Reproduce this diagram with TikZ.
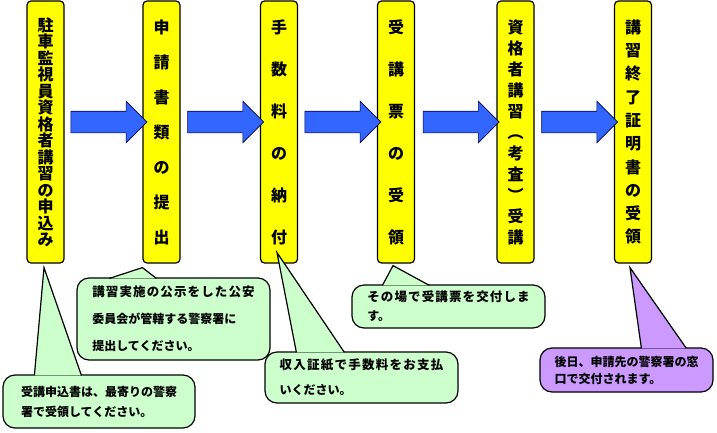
\documentclass[tikz,border=0pt]{standalone}
\usepackage{fontspec}
\newfontfamily\jpfont{Noto Sans CJK JP}
\usetikzlibrary{shapes.arrows,calc}

\definecolor{stepyellow}{RGB}{255,255,0}
\definecolor{arrowblue}{RGB}{51,102,255}
\definecolor{notegreen}{RGB}{204,255,204}
\definecolor{notepurple}{RGB}{204,153,255}

\tikzset{
  stepbox/.style={draw, fill=stepyellow, line width=1.2pt, rounded corners=4pt,
    minimum width=37pt, minimum height=262pt, inner sep=0pt, align=center,
    font=\jpfont\bfseries\fontsize{16pt}{#1}\selectfont},
  flowarrow/.style={single arrow, draw=black!70!blue, fill=arrowblue, line width=0.6pt,
    single arrow head extend=10pt, inner xsep=0pt, inner ysep=10.5pt, minimum height=76pt},
  note/.style={draw, fill=notegreen, line width=1.2pt, rounded corners=12pt,
    inner sep=0pt, align=left, font=\jpfont\bfseries\fontsize{12pt}{#1}\selectfont},
  pointer/.style={draw, fill=notegreen, line width=1.2pt}
}

\begin{document}
\begin{tikzpicture}[x=1pt, y=-1pt]
    \useasboundingbox (0,0) rectangle (717,432);

    \node[stepbox=16.5pt] (s1) at (45.5,132) {駐\\車\\監\\視\\員\\資\\格\\者\\講\\習\\の\\申\\込\\み};
    \node[stepbox=35pt] (s2) at (161.5,132) {申\\請\\書\\類\\の\\提\\出};
    \node[stepbox=42pt] (s3) at (279,132) {手\\数\\料\\の\\納\\付};
    \node[stepbox=42pt] (s4) at (396,132) {受\\講\\票\\の\\受\\領};
    \node[stepbox=21pt] (s5) at (515.5,132) {資\\格\\者\\講\\習\\︵\\考\\査\\︶\\受\\講};
    \node[stepbox=23.3pt] (s6) at (633,132) {講\\習\\終\\了\\証\\明\\書\\の\\受\\領};

    \node[flowarrow] (a1) at ($(s1.east)!0.5!(s2.west)+(0,-10)$) {};
    \node[flowarrow] (a2) at ($(s2.east)!0.5!(s3.west)+(0,-10)$) {};
    \node[flowarrow] (a3) at ($(s3.east)!0.5!(s4.west)+(0,-10)$) {};
    \node[flowarrow] (a4) at ($(s4.east)!0.5!(s5.west)+(0,-10)$) {};
    \node[flowarrow] (a5) at ($(s5.east)!0.5!(s6.west)+(0,-10)$) {};

    \node[note=20pt, minimum width=192pt, minimum height=53pt] (c1) at (99,401.5)
        {受講申込書は、最寄りの警察\\署で受領してください。};
    \node[note=27pt, minimum width=193pt, minimum height=82pt] (c2) at (173.5,319)
        {\fontsize{12.5pt}{27pt}\selectfont\addfontfeature{LetterSpace=9}講習実施の公示をした公安\\委員会が管轄する警察署に\\提出してください。};
    \node[note=25pt, minimum width=193pt, minimum height=51pt] (c3) at (361.5,377.5)
        {\fontsize{12.5pt}{25pt}\selectfont\addfontfeature{LetterSpace=10}収入証紙で手数料をお支払\\いください。};
    \node[note=19pt, minimum width=193pt, minimum height=43pt] (c4) at (448.5,306.5)
        {\fontsize{12.5pt}{19pt}\selectfont\addfontfeature{LetterSpace=9}その場で受講票を交付しま\\す。};
    \node[note=17pt, fill=notepurple, minimum width=173pt, minimum height=44pt] (c5) at (626.5,370)
        {後日、申請先の警察署の窓\\口で交付されます。};

    \draw[pointer] ($(c1.north west)+(32,1)$) -- ($(s1.south)+(-1.5,4)$) -- ($(c1.north west)+(79,1)$);
    \draw[pointer] ($(c2.north west)+(33,1)$) -- ($(s2.south west)+(0,4)$) -- ($(c2.north west)+(80,1)$);
    \draw[pointer] ($(c3.north west)+(32,1)$) -- ($(s3.south)+(-2,-11)$) -- ($(c3.north west)+(80,1)$);
    \draw[pointer] ($(c4.north west)+(31,1)$) -- ($(s4.south)+(-3,2)$) -- ($(c4.north west)+(78,1)$);
    \draw[pointer, fill=notepurple] ($(c5.north west)+(102,1)$) -- ($(s6.south)+(-3,4)$) -- ($(c5.north west)+(147,1)$);
\end{tikzpicture}
\end{document}
